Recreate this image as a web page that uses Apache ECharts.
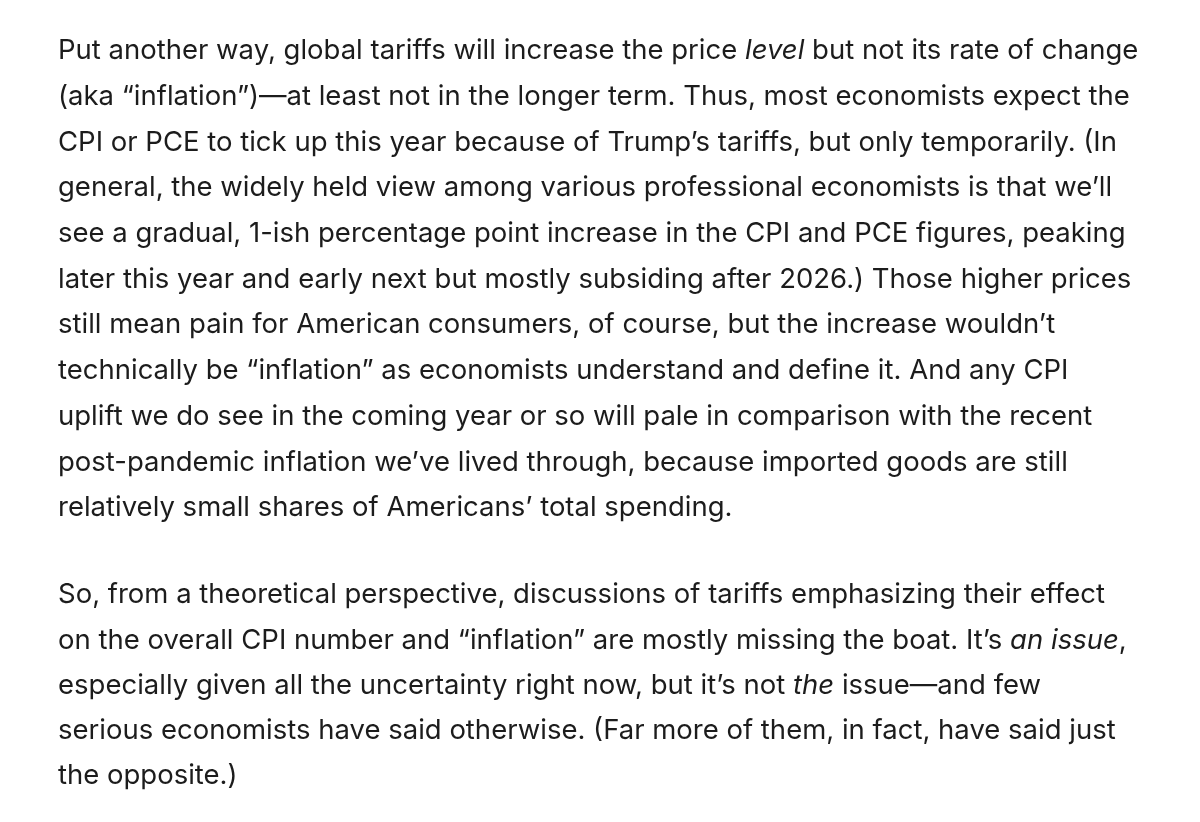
<!DOCTYPE html>
<html><head><meta charset="utf-8">
<script src="https://cdn.jsdelivr.net/npm/echarts@6/dist/echarts.min.js"></script>
<style>html,body{margin:0;padding:0;background:#fff}#c{width:1200px;height:822px}</style>
</head><body><div id="c"></div>
<script>
const paragraph1 = [
"Put another way, global tariffs will increase the price {i|level} but not its rate of change",
"(aka “inflation”)—at least not in the longer term. Thus, most economists expect the",
"CPI or PCE to tick up this year because of Trump’s tariffs, but only temporarily. (In",
"general, the widely held view among various professional economists is that we’ll",
"see a gradual, 1-ish percentage point increase in the CPI and PCE figures, peaking",
"later this year and early next but mostly subsiding after 2026.) Those higher prices",
"still mean pain for American consumers, of course, but the increase wouldn’t",
"technically be “inflation” as economists understand and define it. And any CPI",
"uplift we do see in the coming year or so will pale in comparison with the recent",
"post-pandemic inflation we’ve lived through, because imported goods are still",
"relatively small shares of Americans’ total spending."
];
const paragraph2 = [
"So, from a theoretical perspective, discussions of tariffs emphasizing their effect",
"on the overall CPI number and “inflation” are mostly missing the boat. It’s {i|an issue},",
"especially given all the uncertainty right now, but it’s not {i|the} issue—and few",
"serious economists have said otherwise. (Far more of them, in fact, have said just",
"the opposite.)"
];
const font = "Inter, 'Noto Sans', sans-serif";
const color = "#1c1c1c";
const graphic = [];
function addPara(lines, top, lh){
  lines.forEach((t, k) => graphic.push({
    type:'text', left:58, top: top + k*lh,
    style:{ text:t, font:`400 27.5px ${font}`, fill:color,
      rich:{ i:{ fontStyle:'italic', fontSize:27.5, fontFamily:font, color:color } } }
  }));
}
addPara(paragraph1, 37, 45.7);
addPara(paragraph2, 581, 45.3);
const chart = echarts.init(document.getElementById('c'));
chart.setOption({ backgroundColor:'#fff', graphic });
</script></body></html>
